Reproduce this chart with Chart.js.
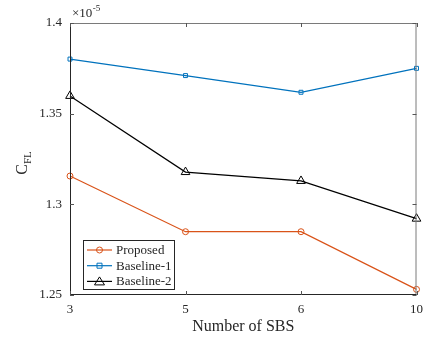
<!DOCTYPE html>
<html><head><meta charset="utf-8">
<script src="https://cdn.jsdelivr.net/npm/chart.js@4/dist/chart.umd.min.js"></script>
<style>html,body{margin:0;padding:0;background:#fff}#w{width:430px;height:344px}</style>
</head><body><div id="w"><canvas id="c" width="430" height="344"></canvas></div>
<script>
const categories = ['3', '5', '6', '10'];
const proposed = [1.3156, 1.2849, 1.2849, 1.2531];
const baseline1 = [1.3801, 1.3710, 1.3618, 1.3750];
const baseline2 = [1.3598, 1.3178, 1.3129, 1.2921];
const yTicks = [1.25, 1.3, 1.35, 1.4];
const seriesNames = ['Proposed', 'Baseline-1', 'Baseline-2'];
const xTitle = 'Number of SBS';

const FONT = '"Liberation Serif", "Times New Roman", serif';
const AX = '#262626';

const overlay = {
  id: 'overlay',
  afterDraw(chart) {
    const ctx = chart.ctx, a = chart.chartArea;
    const xs = chart.scales.x, ys = chart.scales.y;
    ctx.save();
    // frame
    ctx.lineWidth = 1;
    ctx.strokeStyle = '#7a7a7a';
    ctx.beginPath();
    ctx.moveTo(a.left, a.top + 0.5); ctx.lineTo(a.right, a.top + 0.5);
    ctx.moveTo(a.right - 0.5, a.top); ctx.lineTo(a.right - 0.5, a.bottom);
    ctx.stroke();
    ctx.strokeStyle = AX;
    ctx.beginPath();
    ctx.moveTo(a.left + 0.5, a.top); ctx.lineTo(a.left + 0.5, a.bottom);
    ctx.moveTo(a.left, a.bottom - 0.5); ctx.lineTo(a.right, a.bottom - 0.5);
    ctx.stroke();
    // inward ticks
    ctx.strokeStyle = '#555';
    ctx.beginPath();
    categories.forEach((c, i) => {
      const px = Math.round(xs.getPixelForValue(i)) + 0.5;
      ctx.moveTo(px, a.bottom); ctx.lineTo(px, a.bottom - 4);
      ctx.moveTo(px, a.top); ctx.lineTo(px, a.top + 4);
    });
    yTicks.forEach(v => {
      const py = Math.round(ys.getPixelForValue(v)) + 0.5;
      ctx.moveTo(a.left, py); ctx.lineTo(a.left + 4, py);
      ctx.moveTo(a.right, py); ctx.lineTo(a.right - 4, py);
    });
    ctx.stroke();
    // exponent label
    ctx.fillStyle = AX;
    ctx.textBaseline = 'alphabetic';
    ctx.textAlign = 'left';
    ctx.font = '13px ' + FONT;
    ctx.fillText('\u00d710', a.left + 2, 17);
    const w1 = ctx.measureText('\u00d710').width;
    ctx.font = '9px ' + FONT;
    ctx.fillText('-5', a.left + 2 + w1 + 0.5, 11);
    // x title
    ctx.font = '16px ' + FONT;
    ctx.textAlign = 'center';
    ctx.textBaseline = 'middle';
    ctx.fillText(xTitle, (a.left + a.right) / 2, 327);
    // y title C_FL rotated
    ctx.save();
    ctx.translate(22, (a.top + a.bottom) / 2 + 4);
    ctx.rotate(-Math.PI / 2);
    ctx.textAlign = 'left';
    ctx.textBaseline = 'alphabetic';
    ctx.font = '16px ' + FONT;
    const wc = ctx.measureText('C').width;
    ctx.font = '11px ' + FONT;
    const wf = ctx.measureText('FL').width;
    const x0 = -(wc + wf) / 2;
    ctx.font = '16px ' + FONT;
    ctx.fillText('C', x0, 5);
    ctx.font = '11px ' + FONT;
    ctx.fillText('FL', x0 + wc, 9);
    ctx.restore();
    // legend
    const L = 83.5, T = 240.5, W = 91, H = 49;
    ctx.fillStyle = '#fff';
    ctx.fillRect(L, T, W, H);
    ctx.strokeStyle = AX;
    ctx.lineWidth = 1;
    ctx.strokeRect(L, T, W, H);
    chart.data.datasets.forEach((ds, i) => {
      const y = 250 + i * 15.7;
      ctx.strokeStyle = ds.borderColor;
      ctx.lineWidth = 1.2;
      ctx.beginPath(); ctx.moveTo(87, y); ctx.lineTo(112, y); ctx.stroke();
      const mx = 99.5;
      ctx.lineWidth = 1;
      ctx.beginPath();
      if (ds.pointStyle === 'circle') {
        ctx.arc(mx, y, 3, 0, Math.PI * 2);
      } else if (ds.pointStyle === 'rect') {
        ctx.rect(mx - 2.5, y - 2.5, 5, 5);
      } else {
        ctx.moveTo(mx, y - 4.5); ctx.lineTo(mx + 5, y + 3.5); ctx.lineTo(mx - 5, y + 3.5); ctx.closePath();
      }
      ctx.stroke();
      ctx.fillStyle = AX;
      ctx.font = '13px ' + FONT;
      ctx.textAlign = 'left';
      ctx.textBaseline = 'middle';
      ctx.fillText(ds.label, 116, y + 0.5);
    });
    ctx.restore();
  }
};

new Chart(document.getElementById('c'), {
  type: 'line',
  data: {
    labels: categories,
    datasets: [
      { label: seriesNames[0], data: proposed, borderColor: '#D95319', backgroundColor: 'rgba(0,0,0,0)', pointStyle: 'circle', pointRadius: 3, pointBorderWidth: 1, borderWidth: 1.2, tension: 0 },
      { label: seriesNames[1], data: baseline1, borderColor: '#0072BD', backgroundColor: 'rgba(0,0,0,0)', pointStyle: 'rect', pointRadius: 2.8, pointBorderWidth: 1, borderWidth: 1.2, tension: 0 },
      { label: seriesNames[2], data: baseline2, borderColor: '#000000', backgroundColor: 'rgba(0,0,0,0)', pointStyle: 'triangle', pointRadius: 5, pointBorderWidth: 1, borderWidth: 1.2, tension: 0 }
    ]
  },
  options: {
    responsive: false,
    animation: false,
    devicePixelRatio: 1,
    layout: { padding: { left: 0, right: 8, top: 23, bottom: 0 } },
    plugins: { legend: { display: false }, tooltip: { enabled: false } },
    scales: {
      x: {
        type: 'category', offset: false,
        grid: { display: false, drawTicks: false },
        border: { display: false },
        ticks: { color: AX, font: { family: FONT, size: 13 }, padding: 7, maxRotation: 0 },
        afterFit: s => { s.height = 49; }
      },
      y: {
        min: 1.25, max: 1.4,
        grid: { display: false, drawTicks: false },
        border: { display: false },
        afterBuildTicks: s => { s.ticks = yTicks.map(v => ({ value: v })); },
        ticks: { color: AX, font: { family: FONT, size: 13 }, padding: 8, callback: v => String(+v.toFixed(2)) },
        afterFit: s => { s.width = 70; }
      }
    }
  },
  plugins: [overlay]
});
</script></body></html>
